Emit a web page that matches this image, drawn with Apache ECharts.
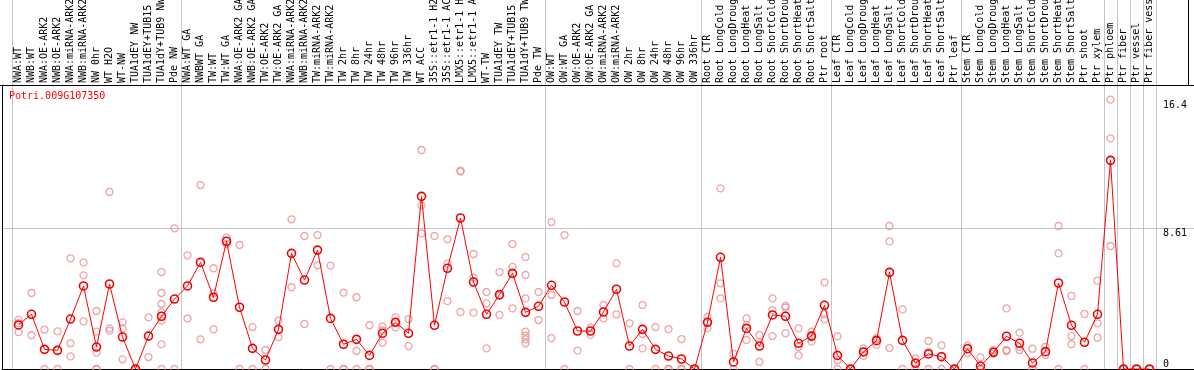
<!DOCTYPE html>
<html>
<head>
<meta charset="utf-8">
<script src="https://cdn.jsdelivr.net/npm/echarts@6/dist/echarts.min.js"></script>
<style>html,body{margin:0;padding:0;background:#fff}#c{width:1194px;height:370px}</style>
</head>
<body>
<div id="c"></div>
<script>
const geneName = 'Potri.009G107350';
const categories = [
  'NWA:WT','NWB:WT','NWA:OE-ARK2','NWB:OE-ARK2','NWA:miRNA-ARK2','NWB:miRNA-ARK2','NW 0hr','WT H2O','WT-NW',
  'TUA1dEY NW','TUA1dEY+TUB15 NW','TUA1dY+TUB9 NW','Pde NW',
  'NWA:WT GA','NWBWT GA','TW:WT','TW:WT GA','NWA:OE-ARK2 GA','NWB:OE-ARK2 GA','TW:OE-ARK2','TW:OE-ARK2 GA',
  'NWA:miRNA-ARK2 GA','NWB:miRNA-ARK2 GA','TW:miRNA-ARK2','TW:miRNA-ARK2 GA',
  'TW 2hr','TW 8hr','TW 24hr','TW 48hr','TW 96hr','TW 336hr','WT ACC',
  '35S::etr1-1 H2O','35S::etr1-1 ACC','LMX5::etr1-1 H2O','LMX5::etr1-1 ACC','WT-TW',
  'TUA1dEY TW','TUA1dEY+TUB15 TW','TUA1dY+TUB9 TW','Pde TW',
  'OW:WT','OW:WT GA','OW:OE-ARK2','OW:OE-ARK2 GA','OW:miRNA-ARK2','OW:miRNA-ARK2 GA',
  'OW 2hr','OW 8hr','OW 24hr','OW 48hr','OW 96hr','OW 336hr',
  'Root CTR','Root LongCold','Root LongDrought','Root LongHeat','Root LongSalt','Root ShortCold','Root ShortDrought','Root ShortHeat','Root ShortSalt','Ptr root',
  'Leaf CTR','Leaf LongCold','Leaf LongDrought','Leaf LongHeat','Leaf LongSalt','Leaf ShortCold','Leaf ShortDrought','Leaf ShortHeat','Leaf ShortSalt','Ptr leaf',
  'Stem CTR','Stem LongCold','Stem LongDrought','Stem LongHeat','Stem LongSalt','Stem ShortCold','Stem ShortDrought','Stem ShortHeat','Stem ShortSalt','Ptr shoot',
  'Ptr xylem','Ptr phloem','Ptr fiber','Ptr vessel','Ptr fiber vessel'
];
const means = [
  2.69,3.34,1.20,1.14,3.05,5.07,1.34,5.19,1.95,0,2.01,3.22,4.27,
  5.07,6.51,4.38,7.80,3.77,1.26,0.55,2.42,7.06,5.43,7.26,3.09,
  1.51,1.81,0.83,2.18,2.85,2.18,10.54,2.67,6.15,9.22,5.31,3.34,4.54,5.84,3.46,3.83,
  5.11,4.09,2.32,2.32,3.48,4.87,1.40,2.42,1.20,0.79,0.61,0,
  2.85,6.82,0.43,2.48,1.40,3.30,3.22,1.57,2.01,3.89,
  0.83,0,1.04,1.73,5.90,1.75,0.35,0.92,0.75,0,
  1.24,0.18,1.02,2.00,1.57,0.37,1.06,5.25,2.67,1.63,
  3.34,12.74,0,0,0
];
const replicates = [
  [3.0,2.8,2.25],[4.64,2.06],[2.4,0],[2.3,0],[6.76,1.57,0.77],[6.51,5.72,2.91],[3.54,2.28,1.0,0,0],[10.81,2.48,2.34],[2.85,2.48,0.59],[0,0],
  [3.15,0.73],[5.92,4.64,3.97,3.46,2.95,1.5,0],[8.59,0],
  [6.94,3.09],[11.23,1.81],[6.15,4.62,2.42],[8.02,7.63],[7.57,0],[2.56,0],[1.16,0],[2.95,1.95],[9.14,4.99],[8.12,2.75],[8.18,6.33],[6.31,0],
  [4.66,0,0],[4.38,1.1,0],[2.67,0,0],[2.6,2.35,1.6],[3.15,2.85,2.54],[3.05,1.40],[13.37,9.99,8.28],[8.12,0,0],[7.92,6.43,4.15],[12.11,12.05,3.48],
  [7.02,5.58,3.44],[4.70,4.01,1.26],[5.92,4.46,3.30],[7.63,6.23,3.70],[6.84,5.74,4.31,2.28,2.03,1.81,1.57],[4.70,2.99],
  [8.97,4.52,1.89],[8.18,0],[3.54,1.12],[2.52,2.08],[3.91,3.09],[6.45,3.34],[2.79,0],[3.91,2.14,1.26],[2.56,0],[2.44,0,0],[1.83,0,0],[0,0],
  [3.19,2.85,2.48],[11.03,5.23,4.31],[0.92,0],[3.09,2.69,1.77],[2.08,1.61,0.43],[4.31,3.60,2.01],[3.85,3.75,2.18],[2.48,1.36,0.83],[2.28,1.95,1.67],[5.29,3.35,3.03],
  [1.99,0.55,0],[0,0],[1.26,1.06,0.8],[1.9,1.8,1.47],[8.73,7.79,1.28],[3.64,0],[0.65,0.4,0],[1.71,1.04,0],[1.44,0.8,0],[0,0],
  [1.42,0.96],[0.71,0,0,0],[1.16,1.04,0.92],[3.70,1.16,1.1],[2.22,1.35,1.16],[1.24,0,0],[1.36,0.85],[8.73,7.06,0],[4.46,2.01,1.51],[3.36,0],
  [5.39,2.79,1.91],[16.45,14.08,7.51],[0,0],[0,0],[0,0]
];
const topTickLabels = [16.4, 8.61];
const bottomTickLabels = [0];
const gridLineValues = [8.61];
const groupBoundaries = [0, 13, 41, 53, 63, 73, 84, 85, 86, 87, 88];

const yMax = 17.34;
const mono = 'DejaVu Sans Mono';
const gray = '#c4c4c4';

const repData = [];
replicates.forEach((arr, i) => arr.forEach(v => repData.push([i, v])));

const splitFn = (idx) => groupBoundaries.indexOf(idx) >= 0;

const chart = echarts.init(document.getElementById('c'), null, {renderer: 'canvas'});
chart.setOption({
  animation: false,
  backgroundColor: '#fff',
  title: {
    text: geneName, left: 9, top: 91, padding: 0,
    textStyle: {color: '#ff0000', fontFamily: mono, fontSize: 10, fontWeight: 'normal'}
  },
  grid: [
    {left: 12, right: 38, top: 85, bottom: 1, outerBoundsMode: 'none', containLabel: false},
    {left: 2, right: 0, top: 85, bottom: 1, outerBoundsMode: 'none', containLabel: false},
    {left: 12, right: 38, top: 0, height: 85, outerBoundsMode: 'none', containLabel: false}
  ],
  xAxis: [
    {
      type: 'category', gridIndex: 0, position: 'top', data: categories, boundaryGap: true,
      axisLine: {show: false}, axisTick: {show: false},
      axisLabel: {interval: 0, rotate: 90, margin: 2, fontFamily: mono, fontSize: 10, color: '#000', hideOverlap: false},
      splitLine: {show: true, interval: splitFn, lineStyle: {color: gray, width: 1}}
    },
    {
      type: 'value', gridIndex: 1, position: 'bottom', min: 0, max: 1,
      axisLine: {show: true, lineStyle: {color: '#000', width: 1}},
      axisTick: {show: false}, axisLabel: {show: false}, splitLine: {show: false}
    },
    {
      type: 'category', gridIndex: 2, data: categories, boundaryGap: true,
      axisLine: {show: false}, axisTick: {show: false}, axisLabel: {show: false},
      splitLine: {show: true, interval: splitFn, lineStyle: {color: gray, width: 1}}
    }
  ],
  yAxis: [
    {
      type: 'value', gridIndex: 0, position: 'right', min: 0, max: yMax,
      axisLine: {show: false}, axisTick: {show: false}, splitLine: {show: false},
      axisLabel: {customValues: topTickLabels, margin: 7, verticalAlign: 'top', align: 'left', fontFamily: mono, fontSize: 10, color: '#000'}
    },
    {
      type: 'value', gridIndex: 0, position: 'right', min: 0, max: yMax,
      axisLine: {show: false}, axisTick: {show: false}, splitLine: {show: false},
      axisLabel: {customValues: bottomTickLabels, margin: 7, verticalAlign: 'bottom', align: 'left', fontFamily: mono, fontSize: 10, color: '#000'}
    },
    {
      type: 'value', gridIndex: 1, position: 'left', min: 0, max: yMax,
      axisLine: {show: true, lineStyle: {color: '#000', width: 1}},
      axisTick: {show: false, customValues: gridLineValues}, axisLabel: {show: false},
      splitLine: {show: true, lineStyle: {color: gray, width: 1}}
    },
    {type: 'value', gridIndex: 2, show: false, min: 0, max: 1}
  ],
  graphic: [
    {type: 'line', silent: true, shape: {x1: 0, y1: 85.5, x2: 1194, y2: 85.5}, style: {stroke: '#000', lineWidth: 1}, z: 100},
    {type: 'line', silent: true, shape: {x1: 1188.5, y1: 0, x2: 1188.5, y2: 85}, style: {stroke: '#000', lineWidth: 1}, z: 100}
  ],
  series: [
    {
      type: 'scatter', xAxisIndex: 0, yAxisIndex: 0, data: repData,
      symbol: 'circle', symbolSize: 7,
      itemStyle: {color: 'rgba(0,0,0,0)', borderColor: '#e98e8e', borderWidth: 1.3},
      z: 2
    },
    {
      type: 'line', xAxisIndex: 0, yAxisIndex: 0, data: means,
      symbol: 'circle', symbolSize: 8, showAllSymbol: true,
      lineStyle: {color: '#ff0000', width: 1},
      itemStyle: {color: 'rgba(0,0,0,0)', borderColor: '#ee0000', borderWidth: 1.6},
      z: 3
    }
  ]
});
</script>
</body>
</html>
